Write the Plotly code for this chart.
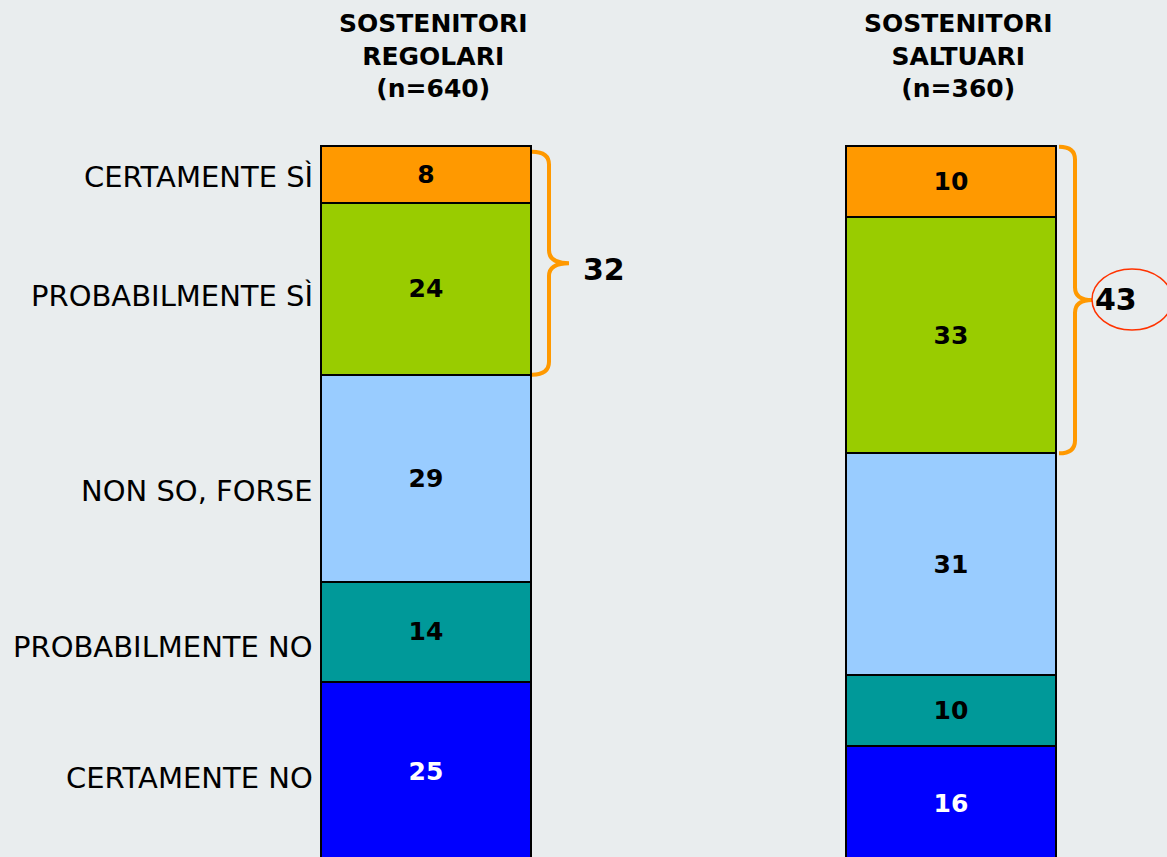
import plotly.graph_objects as go

# data
groups = ["SOSTENITORI<br>REGOLARI<br>(n=640)", "SOSTENITORI<br>SALTUARI<br>(n=360)"]
categories = ["CERTAMENTE NO", "PROBABILMENTE NO", "NON SO, FORSE", "PROBABILMENTE SÌ", "CERTAMENTE SÌ"]
regolari = [25, 14, 29, 24, 8]
saltuari = [16, 10, 31, 33, 10]
colors = ["#0000FF", "#009999", "#99CCFF", "#99CC00", "#FF9900"]
text_colors = ["white", "black", "black", "black", "black"]

xpos = [0, 1]
bar_w = 0.4
px = 525.0          # pixels per x unit
py = 713 / 99.78    # pixels per y unit
bg = "#E9EDEE"

fig = go.Figure()
for i, cat in enumerate(categories):
    fig.add_trace(go.Bar(
        x=xpos, y=[regolari[i], saltuari[i]], name=cat,
        width=bar_w,
        marker=dict(color=colors[i], line=dict(color="black", width=2)),
        texttemplate="<b>%{y}</b>", textposition="inside",
        insidetextanchor="middle", textangle=0,
        textfont=dict(family="DejaVu Sans", size=25, color=text_colors[i]),
        hoverinfo="skip",
    ))

# category labels next to the first bar
cum = 0
label_shift = [-7, -15, -13, -7, -2]
for i, cat in enumerate(categories):
    mid = cum + regolari[i] / 2
    cum += regolari[i]
    fig.add_annotation(x=xpos[0] - bar_w / 2, y=mid, text=cat, showarrow=False,
                       xanchor="right", yanchor="middle", xshift=-6, yshift=label_shift[i],
                       font=dict(family="DejaVu Sans", size=29, color="black"))

# column headers
for g, x in zip(groups, xpos):
    fig.add_annotation(x=x, y=1, xref="x", yref="paper", text="<b>" + g + "</b>",
                       showarrow=False, xanchor="center", yanchor="bottom",
                       xshift=7, yshift=39,
                       font=dict(family="DejaVu Sans", size=25, color="black"))


def brace(x0, ytop, ybot, dv, dt, r=1.8):
    xv = x0 + dv / px
    xt = x0 + dt / px
    ym = (ytop + ybot) / 2
    path = (f"M {x0},{ytop} Q {xv},{ytop} {xv},{ytop - r} L {xv},{ym + r} "
            f"Q {xv},{ym} {xt},{ym} Q {xv},{ym} {xv},{ym - r} L {xv},{ybot + r} "
            f"Q {xv},{ybot} {x0},{ybot}")
    fig.add_shape(type="path", path=path, line=dict(color="#FF9900", width=4))
    return xt, ym


# top-two boxes
tot1 = regolari[-1] + regolari[-2]
tot2 = saltuari[-1] + saltuari[-2]
xt1, ym1 = brace(xpos[0] + bar_w / 2 + 1 / px, 100 - 0.8, 100 - tot1, 17, 37)
xt2, ym2 = brace(xpos[1] + bar_w / 2 + 3 / px, 100 - 0.1, 100 - tot2, 16, 33)

fig.add_annotation(x=xt1, y=ym1, text=f"<b>{tot1}</b>", showarrow=False,
                   xanchor="left", xshift=12, yshift=-6,
                   font=dict(family="DejaVu Sans", size=30, color="black"))
fig.add_annotation(x=xt2, y=ym2, text=f"<b>{tot2}</b>", showarrow=False,
                   xanchor="left", xshift=1, yshift=0,
                   font=dict(family="DejaVu Sans", size=30, color="black"))
fig.add_shape(type="circle", x0=xt2, x1=xt2 + 80 / px, y0=ym2 - 30 / py, y1=ym2 + 31 / py,
              line=dict(color="#FF3300", width=1.5))

fig.update_layout(
    barmode="stack", width=1167, height=857, showlegend=False,
    margin=dict(l=0, r=0, t=144, b=0),
    paper_bgcolor=bg, plot_bgcolor=bg,
    xaxis=dict(range=[-426 / px, (1167 - 426) / px], visible=False),
    yaxis=dict(range=[0.5, 100.28], visible=False),
)

fig.write_html("out.html", config={"displayModeBar": False},
               post_script="document.body.style.margin='0';")
